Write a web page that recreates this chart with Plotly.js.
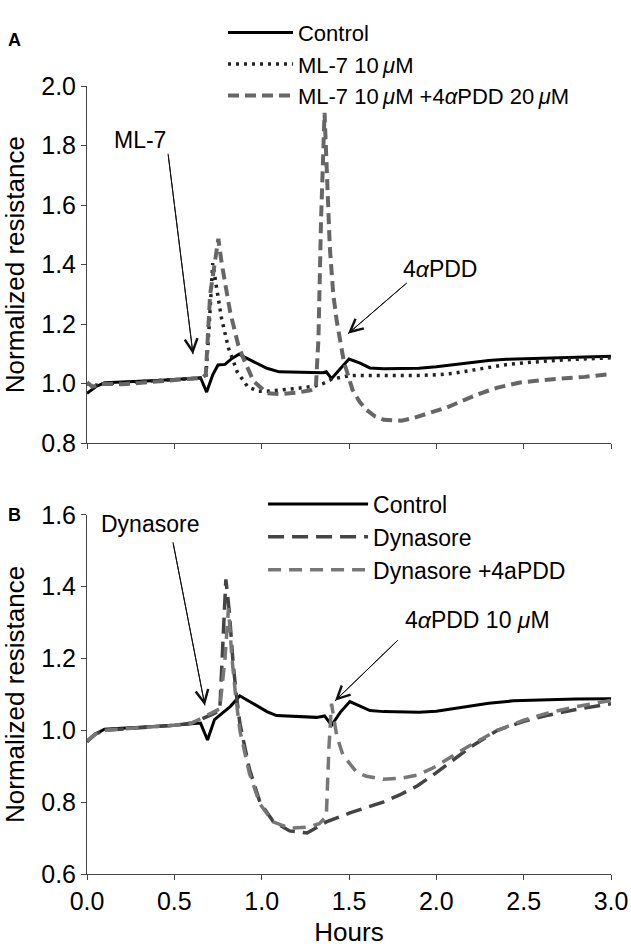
<!DOCTYPE html>
<html><head><meta charset="utf-8">
<script src="https://cdn.plot.ly/plotly-3.0.1.min.js"></script>
<style>html,body{margin:0;padding:0;background:#fff}</style>
</head><body><div id="chart" style="width:631px;height:947px"></div>
<script>
// ---- Panel A data ----
const ctrlA_t = [0,0.05,0.1,0.2,0.3,0.4,0.5,0.6,0.65,0.685,0.72,0.75,0.79,0.83,0.87,0.95,1.03,1.1,1.2,1.3,1.35,1.37,1.40,1.45,1.5,1.56,1.62,1.7,1.8,1.9,2.0,2.1,2.2,2.3,2.4,2.5,2.6,2.7,2.8,2.9,3.0];
const ctrlA_v = [0.968,0.99,1.003,1.005,1.008,1.011,1.014,1.018,1.02,0.972,1.03,1.063,1.065,1.085,1.099,1.075,1.052,1.040,1.038,1.037,1.037,1.04,1.017,1.05,1.083,1.07,1.053,1.05,1.05,1.052,1.057,1.064,1.072,1.078,1.082,1.084,1.086,1.088,1.09,1.091,1.092];
const ml7A_t = [0,0.05,0.1,0.2,0.3,0.4,0.5,0.6,0.68,0.70,0.72,0.74,0.77,0.81,0.86,0.92,0.98,1.03,1.1,1.2,1.3,1.35,1.4,1.45,1.5,1.55,1.7,1.9,2.0,2.1,2.2,2.3,2.4,2.5,2.6,2.7,2.8,2.9,3.0];
const ml7A_v = [1.0,0.995,1.0,1.003,1.006,1.01,1.013,1.017,1.02,1.2,1.405,1.33,1.22,1.12,1.04,0.99,0.975,0.975,0.978,0.984,0.992,1.0,1.015,1.022,1.027,1.028,1.027,1.028,1.03,1.035,1.045,1.055,1.064,1.07,1.075,1.079,1.082,1.085,1.087];
const pddA_t = [0,0.03,0.06,0.1,0.2,0.3,0.4,0.5,0.6,0.66,0.68,0.705,0.73,0.752,0.771,0.82,0.866,0.895,0.952,1.03,1.1,1.2,1.28,1.31,1.325,1.34,1.36,1.375,1.39,1.41,1.43,1.47,1.52,1.56,1.6,1.65,1.7,1.8,1.87,1.95,2.06,2.15,2.25,2.35,2.48,2.6,2.73,2.85,3.0];
const pddA_v = [1.005,0.99,0.995,1.0,0.998,1.003,1.008,1.012,1.017,1.02,1.03,1.30,1.40,1.487,1.405,1.24,1.13,1.086,1.01,0.968,0.965,0.97,0.978,0.985,1.15,1.55,1.91,1.70,1.46,1.30,1.21,1.076,0.98,0.94,0.912,0.89,0.879,0.876,0.885,0.9,0.92,0.943,0.967,0.987,1.004,1.012,1.017,1.023,1.033];

// ---- Panel B data ----
const ctrlB_t = [0,0.05,0.1,0.2,0.3,0.4,0.5,0.6,0.65,0.69,0.73,0.78,0.82,0.875,0.95,1.03,1.085,1.2,1.315,1.36,1.40,1.45,1.505,1.56,1.62,1.7,1.8,1.9,2.0,2.1,2.2,2.3,2.44,2.6,2.8,3.0];
const ctrlB_v = [0.968,0.99,1.003,1.005,1.008,1.011,1.014,1.018,1.02,0.973,1.03,1.05,1.066,1.096,1.075,1.052,1.041,1.038,1.036,1.04,1.014,1.05,1.08,1.068,1.055,1.052,1.05,1.05,1.053,1.06,1.068,1.075,1.082,1.085,1.087,1.088];
const dynB_t = [0,0.05,0.1,0.2,0.3,0.4,0.5,0.6,0.665,0.72,0.76,0.775,0.795,0.815,0.837,0.855,0.875,0.93,0.99,1.065,1.16,1.26,1.37,1.505,1.6,1.695,1.79,1.89,1.98,2.08,2.2,2.35,2.5,2.63,2.8,3.0];
const dynB_v = [0.97,0.99,1.0,1.003,1.006,1.01,1.014,1.02,1.033,1.045,1.055,1.2,1.42,1.33,1.183,1.1,1.02,0.892,0.80,0.747,0.72,0.714,0.745,0.77,0.785,0.80,0.82,0.845,0.875,0.91,0.955,1.0,1.025,1.041,1.058,1.074];
const dynPddB_t = [0,0.05,0.1,0.2,0.3,0.4,0.5,0.6,0.665,0.72,0.76,0.79,0.81,0.83,0.85,0.875,0.93,0.99,1.065,1.16,1.26,1.33,1.37,1.385,1.40,1.43,1.466,1.545,1.6,1.695,1.79,1.89,1.98,2.08,2.2,2.35,2.5,2.63,2.8,3.0];
const dynPddB_v = [0.97,0.99,1.0,1.003,1.006,1.01,1.014,1.02,1.035,1.05,1.06,1.2,1.34,1.2,1.1,1.0,0.88,0.795,0.745,0.728,0.73,0.74,0.76,0.95,1.074,0.984,0.93,0.883,0.872,0.864,0.866,0.875,0.895,0.925,0.96,1.0,1.028,1.047,1.066,1.083];

const namesA = ['Control', 'ML-7 10\u2009<i>\u03bc</i>M', 'ML-7 10\u2009<i>\u03bc</i>M +4<i>\u03b1</i>PDD 20\u2009<i>\u03bc</i>M'];
const namesB = ['Control', 'Dynasore', 'Dynasore +4aPDD'];
const xTicks = [0, 0.5, 1, 1.5, 2, 2.5, 3];

// annotation arrows: [xref, yref, tipX, tipY, tailX, tailY]
const arrowsDef = [
  ['x', 'y', 0.607, 1.099, 0.464, 1.773],
  ['x', 'y', 1.494, 1.168, 1.832, 1.339],
  ['x2', 'y2', 0.675, 1.069, 0.492, 1.524],
  ['x2', 'y2', 1.42, 1.082, 1.780, 1.251]
];

const FONT = 'Liberation Sans, Arial, sans-serif';

const traces = [
  {x: ctrlA_t, y: ctrlA_v, name: namesA[0], mode: 'lines', xaxis: 'x', yaxis: 'y', legend: 'legend',
   line: {color: '#000', width: 3}},
  {x: ml7A_t, y: ml7A_v, name: namesA[1], mode: 'lines', xaxis: 'x', yaxis: 'y', legend: 'legend',
   line: {color: '#222', width: 3.5, dash: '3px,5px'}},
  {x: pddA_t, y: pddA_v, name: namesA[2], mode: 'lines', xaxis: 'x', yaxis: 'y', legend: 'legend',
   line: {color: '#666', width: 4, dash: '11px,6px'}},
  {x: ctrlB_t, y: ctrlB_v, name: namesB[0], mode: 'lines', xaxis: 'x2', yaxis: 'y2', legend: 'legend2',
   line: {color: '#000', width: 3}},
  {x: dynB_t, y: dynB_v, name: namesB[1], mode: 'lines', xaxis: 'x2', yaxis: 'y2', legend: 'legend2',
   line: {color: '#444', width: 3.5, dash: '16px,8px'}},
  {x: dynPddB_t, y: dynPddB_v, name: namesB[2], mode: 'lines', xaxis: 'x2', yaxis: 'y2', legend: 'legend2',
   line: {color: '#777', width: 3.5, dash: '13px,8px'}}
];

const axisCommon = {
  showgrid: false, zeroline: false, showline: true, linecolor: '#444', linewidth: 1,
  ticks: 'outside', ticklen: 5, tickwidth: 1, tickcolor: '#444',
  tickfont: {family: FONT, size: 25, color: '#000'}
};

const textCommon = {showarrow: false, font: {family: FONT, size: 23, color: '#000'}};

const arrowAnns = arrowsDef.map(a => ({
  showarrow: true, text: '', font: {size: 1}, arrowhead: 5, arrowsize: 2.5, arrowwidth: 1,
  arrowcolor: '#111', standoff: 0, startstandoff: 0,
  xref: a[0], yref: a[1], axref: a[0], ayref: a[1], x: a[2], y: a[3], ax: a[4], ay: a[5]
}));
const arrowShapes = arrowsDef.map(a => ({
  type: 'line', xref: a[0], yref: a[1], x0: a[4], y0: a[5], x1: a[2], y1: a[3],
  line: {color: '#111', width: 1}
}));

const layout = {
  width: 631, height: 947,
  margin: {l: 87, r: 20, t: 69, b: 73},
  paper_bgcolor: '#fff', plot_bgcolor: '#fff',
  font: {family: FONT, size: 22, color: '#000'},
  xaxis: Object.assign({}, axisCommon, {domain: [0, 1], anchor: 'y', range: [0, 3], tickvals: xTicks, showticklabels: false}),
  yaxis: Object.assign({}, axisCommon, {domain: [0.5466, 1], anchor: 'x', range: [0.8, 2.0], dtick: 0.2, tickformat: '.1f',
    title: {text: 'Normalized resistance', font: {family: FONT, size: 26}, standoff: 14}}),
  xaxis2: Object.assign({}, axisCommon, {domain: [0, 1], anchor: 'y2', range: [0, 3], tickvals: xTicks, tickformat: '.1f',
    title: {text: 'Hours', font: {family: FONT, size: 26}, standoff: 9}}),
  yaxis2: Object.assign({}, axisCommon, {domain: [0, 0.4559], anchor: 'x2', range: [0.6, 1.6], dtick: 0.2, tickformat: '.1f',
    title: {text: 'Normalized resistance', font: {family: FONT, size: 26}, standoff: 14}}),
  legend: {x: 0.2595, y: 1.0944, xanchor: 'left', yanchor: 'top', bgcolor: 'rgba(0,0,0,0)',
    font: {family: FONT, size: 22, color: '#000'}, tracegroupgap: 0, itemwidth: 65},
  legend2: {x: 0.336, y: 0.4969, xanchor: 'left', yanchor: 'top', bgcolor: 'rgba(0,0,0,0)',
    font: {family: FONT, size: 23, color: '#000'}, tracegroupgap: 0, itemwidth: 100},
  showlegend: true,
  shapes: arrowShapes,
  annotations: [
    Object.assign({}, textCommon, {xref: 'paper', yref: 'paper', x: -0.139, y: 1.058, xanchor: 'center', yanchor: 'middle', text: '<b>A</b>', font: {family: FONT, size: 18, color: '#000'}}),
    Object.assign({}, textCommon, {xref: 'paper', yref: 'paper', x: -0.139, y: 0.456, xanchor: 'center', yanchor: 'middle', text: '<b>B</b>', font: {family: FONT, size: 18, color: '#000'}}),
    Object.assign({}, textCommon, {xref: 'x', yref: 'y', x: 0.303, y: 1.819, text: 'ML-7'}),
    Object.assign({}, textCommon, {xref: 'x', yref: 'y', x: 2.02, y: 1.385, text: '4<i>\u03b1</i>PDD'}),
    Object.assign({}, textCommon, {xref: 'x2', yref: 'y2', x: 0.361, y: 1.573, text: 'Dynasore'}),
    Object.assign({}, textCommon, {xref: 'x2', yref: 'y2', x: 2.238, y: 1.308, text: '4<i>\u03b1</i>PDD 10 <i>\u03bc</i>M'})
  ].concat(arrowAnns)
};

Plotly.newPlot('chart', traces, layout, {staticPlot: true, displayModeBar: false});
</script></body></html>
